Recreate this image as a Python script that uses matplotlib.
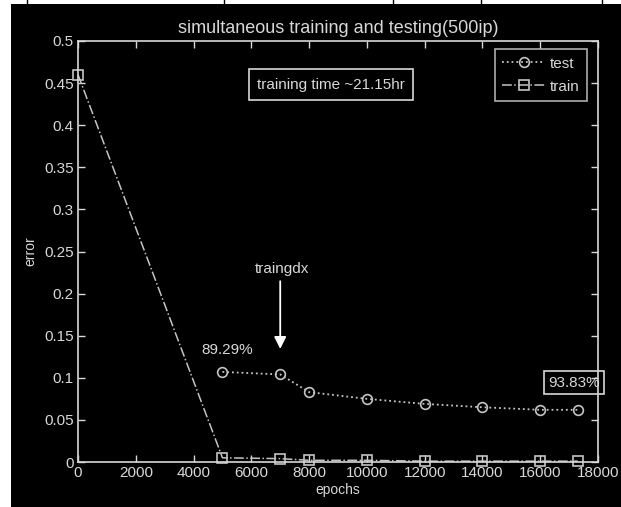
import matplotlib.pyplot as plt
from matplotlib.patches import Rectangle
from matplotlib.lines import Line2D

# data
epochs = [0, 5000, 7000, 8000, 10000, 12000, 14000, 16000, 17300]
train_err = [0.46, 0.005, 0.004, 0.002, 0.002, 0.001, 0.001, 0.001, 0.001]
test_epochs = [5000, 7000, 8000, 10000, 12000, 14000, 16000, 17300]
test_err = [0.107, 0.104, 0.083, 0.075, 0.069, 0.065, 0.062, 0.062]
x_ticks = list(range(0, 18001, 2000))
y_ticks = [0, 0.05, 0.1, 0.15, 0.2, 0.25, 0.3, 0.35, 0.4, 0.45, 0.5]
y_tick_labels = ['0', '0.05', '0.1', '0.15', '0.2', '0.25', '0.3', '0.35', '0.4', '0.45', '0.5']

fg = '#d8d8d8'
line_col = '#c4c4c4'
font = ['Liberation Sans', 'DejaVu Sans']

fig = plt.figure(figsize=(6.21, 5.07), dpi=100, facecolor='black')

# white margins of the screenshot and bits of the table border above it
fig.patches.append(Rectangle((0, 0), 11 / 621, 1, transform=fig.transFigure,
                             facecolor='white', edgecolor='none', zorder=-10))
fig.patches.append(Rectangle((0, 1 - 4 / 507), 1, 4 / 507, transform=fig.transFigure,
                             facecolor='white', edgecolor='none', zorder=-10))
for xp in [27, 224, 393, 481, 602]:
    fig.lines.append(Line2D([xp / 621, xp / 621], [1 - 4 / 507, 1],
                            transform=fig.transFigure, color='black', lw=1,
                            zorder=-9))

ax = fig.add_axes([78 / 621, 45 / 507, 520 / 621, 421 / 507])
ax.set_facecolor('black')

ax.plot(test_epochs, test_err, linestyle=':', color=line_col, lw=1.3,
        marker='o', markersize=7, markerfacecolor='none',
        markeredgecolor=line_col, markeredgewidth=1.2, label='test')
ax.plot(epochs, train_err, linestyle='-.', color=line_col, lw=1.1,
        marker='s', markersize=7, markerfacecolor='none',
        markeredgecolor=line_col, markeredgewidth=1.2, label='train',
        clip_on=False)

ax.set_xlim(0, 18000)
ax.set_ylim(0, 0.5)
ax.set_xticks(x_ticks)
ax.set_xticklabels([str(t) for t in x_ticks], family=font, fontsize=11, color=fg)
ax.set_yticks(y_ticks)
ax.set_yticklabels(y_tick_labels, family=font, fontsize=11, color=fg)
ax.tick_params(direction='in', top=True, right=True, length=5, width=1,
               color=fg, pad=3)

for sp in ax.spines.values():
    sp.set_color(fg)
    sp.set_linewidth(1.2)

ax.set_title('simultaneous training and testing(500ip)', family=font,
             fontsize=13, color=fg, pad=6)
ax.set_xlabel('epochs', family=font, fontsize=10, color=fg, labelpad=2)
ax.set_ylabel('error', family=font, fontsize=10, color=fg, labelpad=5)

leg = ax.legend(loc='upper right', bbox_to_anchor=(0.979, 0.981),
                borderaxespad=0, fancybox=False, handlelength=2.8,
                prop={'family': font, 'size': 11}, labelcolor=fg,
                borderpad=0.5, labelspacing=0.6, handletextpad=0.3)
leg.get_frame().set_facecolor('black')
leg.get_frame().set_edgecolor(fg)
leg.get_frame().set_linewidth(1.2)

ax.text(8758, 0.448, 'training time ~21.15hr', family=font, fontsize=11,
        color=fg, ha='center', va='center',
        bbox=dict(boxstyle='square,pad=0.55', facecolor='black',
                  edgecolor=fg, lw=1.2))

ax.text(5158, 0.133, '89.29%', family=font, fontsize=11, color=fg,
        ha='center', va='center')
ax.text(17170, 0.094, '93.83%', family=font, fontsize=11, color=fg,
        ha='center', va='center', clip_on=False,
        bbox=dict(boxstyle='square,pad=0.3', facecolor='none',
                  edgecolor=fg, lw=1.2))

ax.annotate('', xy=(7000, 0.131), xytext=(7000, 0.218),
            arrowprops=dict(arrowstyle='-|>', color='white', lw=1.3,
                            mutation_scale=18))
ax.text(7050, 0.229, 'traingdx', family=font, fontsize=11, color=fg,
        ha='center', va='center')

fig.savefig('out.png', dpi=100, facecolor=fig.get_facecolor())
